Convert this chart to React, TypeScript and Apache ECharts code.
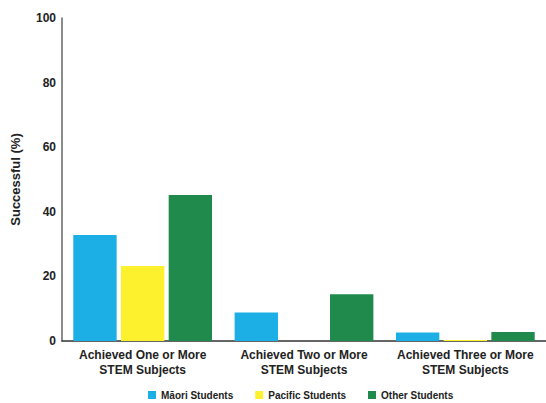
import React, { useEffect, useRef } from "react";
import * as echarts from "echarts";

const categories = [
  "Achieved One or More\nSTEM Subjects",
  "Achieved Two or More\nSTEM Subjects",
  "Achieved Three or More\nSTEM Subjects",
];
const maoriValues = [32.8, 8.8, 2.6];
const pacificValues = [23.2, 0, 0.3];
const otherValues = [45.2, 14.5, 2.8];
const seriesNames = ["Māori Students", "Pacific Students", "Other Students"];
const seriesColors = ["#1cafe6", "#fdf02c", "#1f8a4c"];

const FONT = "'Liberation Sans', Arial, sans-serif";

export default function App() {
  const ref = useRef<HTMLDivElement>(null);

  useEffect(() => {
    if (!ref.current) return;
    const chart = echarts.init(ref.current, undefined, { renderer: "svg" });
    const values = [maoriValues, pacificValues, otherValues];
    chart.setOption({
      animation: false,
      backgroundColor: "#ffffff",
      textStyle: { fontFamily: FONT },
      grid: { left: 62, right: -4, top: 18, bottom: 62 },
      legend: {
        left: 146,
        top: 388,
        padding: 2,
        itemWidth: 8,
        itemHeight: 8,
        itemGap: 22,
        icon: "rect",
        textStyle: { fontFamily: FONT, fontSize: 10, fontWeight: "bold", color: "#222" },
        data: seriesNames,
      },
      xAxis: {
        type: "category",
        data: categories,
        axisLine: { lineStyle: { color: "#333", width: 1.5 } },
        axisTick: { show: false },
        axisLabel: {
          interval: 0,
          fontFamily: FONT,
          fontSize: 12,
          fontWeight: "bold",
          color: "#222",
          lineHeight: 15,
          margin: 6,
        },
      },
      yAxis: {
        type: "value",
        min: 0,
        max: 100,
        interval: 20,
        name: "Successful (%)",
        nameLocation: "middle",
        nameGap: 40,
        nameRotate: 90,
        nameTextStyle: { fontFamily: FONT, fontSize: 13, fontWeight: "bold", color: "#222" },
        axisLine: { show: true, lineStyle: { color: "#666", width: 1.5 } },
        axisTick: { show: false },
        splitLine: { show: false },
        axisLabel: {
          fontFamily: FONT,
          fontSize: 12,
          fontWeight: "bold",
          color: "#222",
          margin: 6,
        },
      },
      series: seriesNames.map((name, i) => ({
        name,
        type: "bar",
        data: values[i],
        barGap: "10%",
        barCategoryGap: "14%",
        itemStyle: { color: seriesColors[i] },
      })),
    });
    return () => chart.dispose();
  }, []);

  return (
    <div
      ref={ref}
      style={{ position: "fixed", left: 0, top: 0, width: 546, height: 403 }}
    />
  );
}
